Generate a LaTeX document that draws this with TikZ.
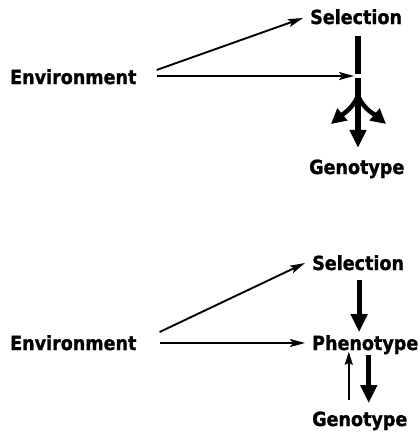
\documentclass[tikz,border=0pt]{standalone}
\usepackage{fontspec}
\setmainfont{DejaVu Sans}[BoldFeatures={FakeBold=1.2,FakeStretch=0.9}]
\usetikzlibrary{arrows.meta}
\begin{document}
\begin{tikzpicture}[x=1pt,y=-1pt,
  lab/.style={font=\fontsize{19.5}{22}\selectfont\bfseries, inner sep=0pt, anchor=base west, text height=14pt, text depth=3.5pt},
  thinarr/.style={line width=1.9pt, -{Stealth[length=15pt,width=8pt,inset=3pt]}},
  thinup/.style={line width=2pt, -{Stealth[length=13pt,width=8pt,inset=2pt]}},
  thickarr/.style={line width=5pt, -{Triangle[length=18pt,width=16pt]}},
  branch/.style={line width=4.5pt, -{Triangle[length=15pt,width=15pt]}},
  ]
\fill[white] (0,0) rectangle (420,432);
\useasboundingbox (0,0) rectangle (420,432);
% top diagram
\node[lab] (env1) at (10,84) {Environment};
\node[lab] (sel1) at (310,24) {Selection};
\node[lab] (gen1) at (309,174) {Genotype};
\coordinate (m1) at (354,76);
\coordinate (v1b) at (358,74);
\coordinate (v1c) at (358,78);
\coordinate (br1) at (358,96);
\coordinate (bl1) at (331,124);
\coordinate (bk1) at (386,124);
\draw[thinarr] ([shift={(20,-8.75)}]env1.east) -- ([shift={(-7,-0.75)}]sel1.west);
\draw[thinarr] ([shift={(20,-2.75)}]env1.east) -- (m1);
\draw[line width=6pt] ([shift={(0,8)}]sel1.south -| v1b) -- (v1b);
\draw[thickarr, line width=6pt] (v1c) -- ([shift={(0,-12)}]gen1.north -| v1c);
\draw[branch] (br1) to[out=-115,in=40] (bl1);
\draw[branch] (br1) to[out=-65,in=140] (bk1);
% bottom diagram
\node[lab] (env2) at (10,350) {Environment};
\node[lab] (sel2) at (312,270) {Selection};
\node[lab] (phe2) at (312,350) {Phenotype};
\node[lab] (gen2) at (312,426) {Genotype};
\draw[thinarr] ([shift={(23,-12.75)}]env2.east) -- ([shift={(-7,-1.75)}]sel2.west);
\draw[thinarr] ([shift={(23,-1.75)}]env2.east) -- ([shift={(-7,-1.75)}]phe2.west);
\draw[thickarr] ([shift={(1,6.5)}]sel2.south) -- ++(0,52);
\draw[thinup] ([shift={(-11,-12)}]gen2.north) -- ++(0,-48);
\draw[thickarr] ([shift={(3.5,1.5)}]phe2.south) -- ++(0,48);
\end{tikzpicture}
\end{document}
